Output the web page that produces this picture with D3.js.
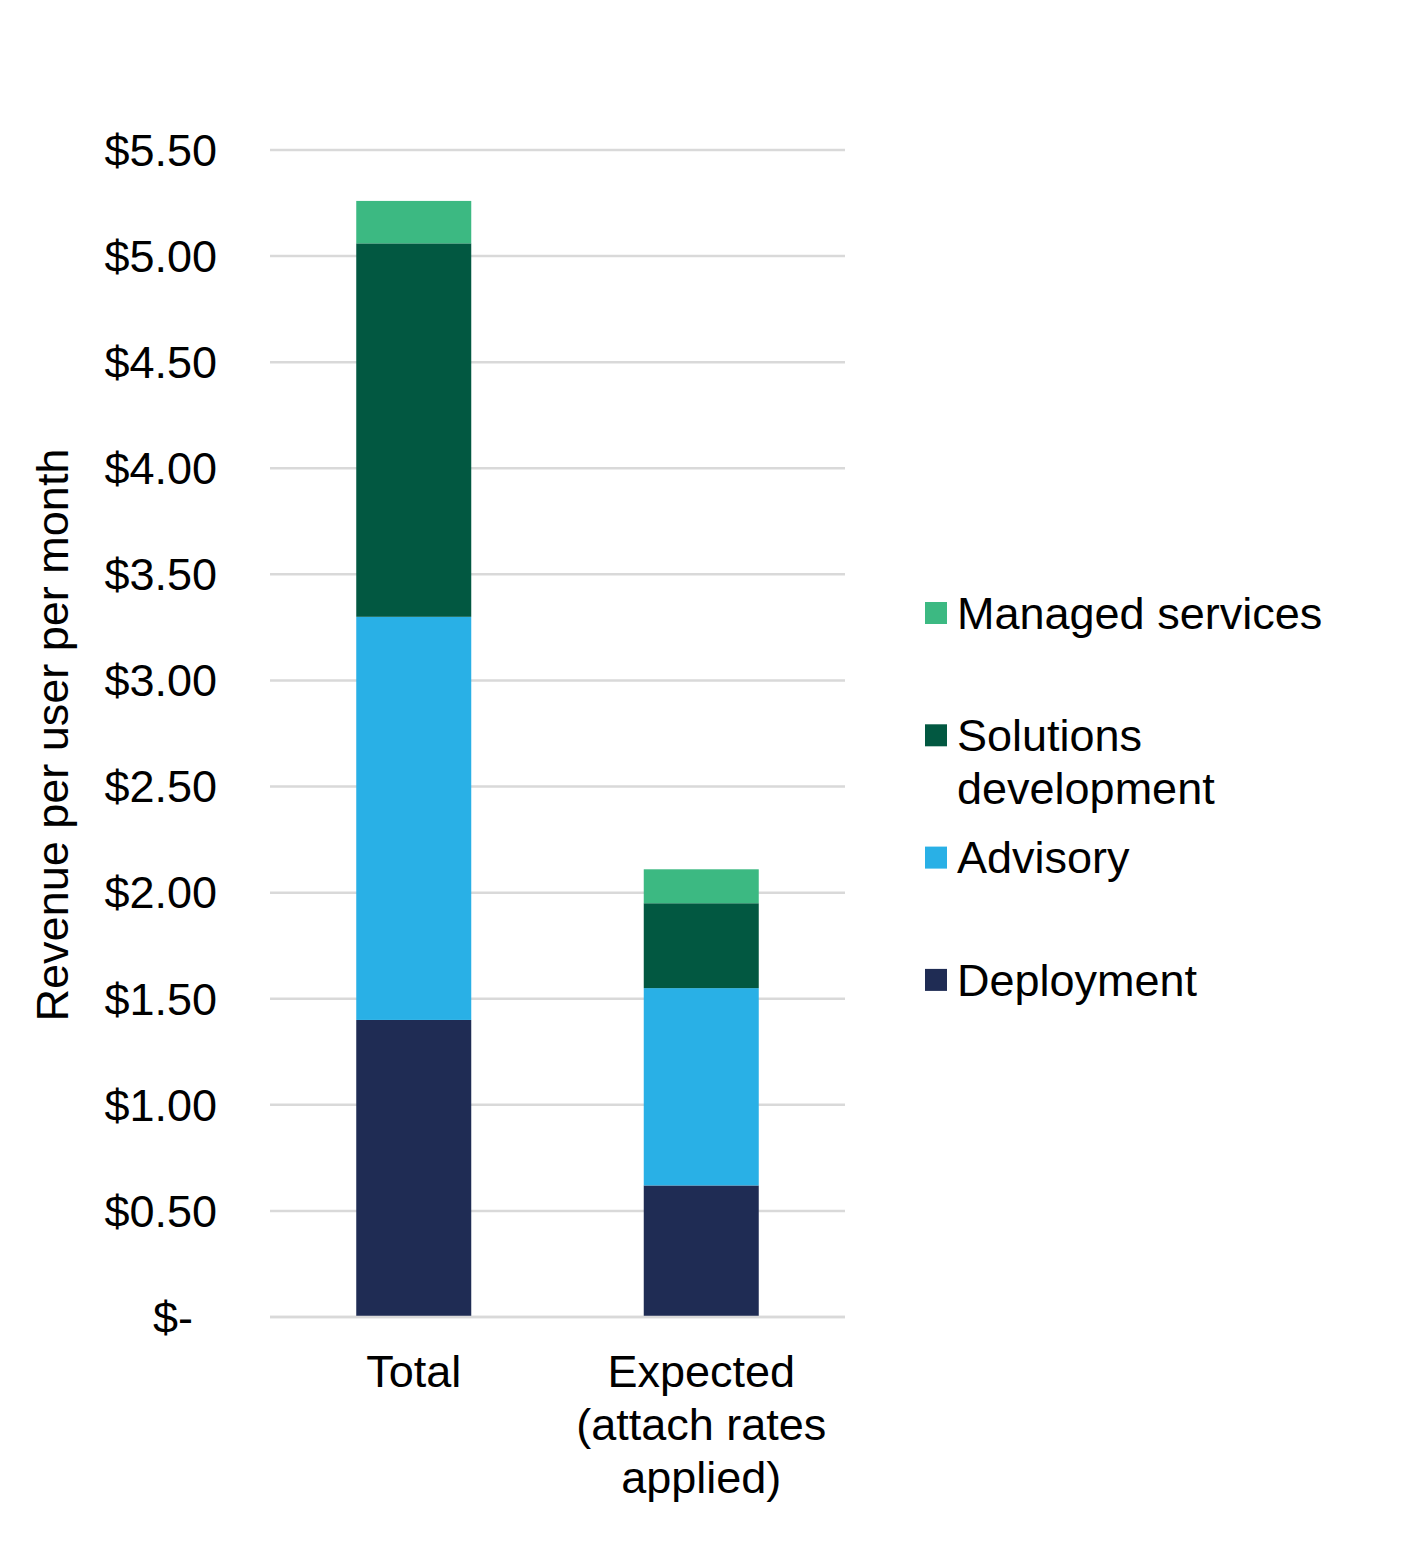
<!DOCTYPE html>
<html>
<head>
<meta charset="utf-8">
<script src="https://cdn.jsdelivr.net/npm/d3@7"></script>
<style>
  body { margin: 0; background: #fff; }
  text { font-family: "Liberation Sans", Arial, sans-serif; fill: #000; }
</style>
</head>
<body>
<div id="chart"></div>
<script>
(function() {
    const categories = [['Total'], ['Expected', '(attach rates', 'applied)']];
    const seriesNames = ['Deployment', 'Advisory', 'Solutions development', 'Managed services'];
    const deployment = [1.40, 0.62];
    const advisory   = [1.90, 0.93];
    const solutions  = [1.76, 0.40];
    const managed    = [0.20, 0.16];
    const yTicks = [0, 0.5, 1, 1.5, 2, 2.5, 3, 3.5, 4, 4.5, 5, 5.5];
    const colors = ['#1f2c54', '#29b0e6', '#025841', '#3cb982'];

    const width = 1402,
          height = 1545,
          margin = {top: 150, right: 557, bottom: 228, left: 270};
    const innerW = width - margin.left - margin.right,
          innerH = height - margin.top - margin.bottom;

    const rows = categories.map((c, i) => ({
      key: i,
      'Deployment': deployment[i],
      'Advisory': advisory[i],
      'Solutions development': solutions[i],
      'Managed services': managed[i]
    }));

    const stack = d3.stack().keys(seriesNames);
    const layers = stack(rows);

    const x = d3.scaleBand()
      .domain(d3.range(categories.length))
      .range([0, innerW])
      .paddingInner(0.6)
      .paddingOuter(0.3);

    const y = d3.scaleLinear()
      .domain([0, 5.5])
      .range([innerH, 0]);

    const color = d3.scaleOrdinal().domain(seriesNames).range(colors);

    const svg = d3.select('#chart')
      .append('svg')
      .attr('width', width)
      .attr('height', height);

    const g = svg.append('g')
      .attr('transform', `translate(${margin.left},${margin.top})`);

    // gridlines
    g.selectAll('.grid')
      .data(yTicks)
      .enter().append('line')
        .attr('x1', 0)
        .attr('x2', innerW)
        .attr('y1', d => y(d))
        .attr('y2', d => y(d))
        .attr('stroke', '#d9d9d9')
        .attr('stroke-width', 2.5);

    // y axis labels
    const yAxis = d3.axisLeft(y)
      .tickValues(yTicks)
      .tickSize(0)
      .tickPadding(53)
      .tickFormat(d => d === 0 ? '$-' : d3.format('$.2f')(d));

    const ya = g.append('g').call(yAxis);
    ya.select('.domain').remove();
    ya.selectAll('text')
      .style('font-size', '45px')
      .attr('dy', '0.34em')
      .attr('dx', d => d === 0 ? -24 : 0);

    // bars
    g.selectAll('.layer')
      .data(layers)
      .enter().append('g')
        .attr('fill', d => color(d.key))
      .selectAll('rect')
      .data(d => d)
      .enter().append('rect')
        .attr('x', (d, i) => x(i))
        .attr('width', x.bandwidth())
        .attr('y', d => y(d[1]))
        .attr('height', d => y(d[0]) - y(d[1]));

    // baseline drawn over bars
    g.append('line')
      .attr('x1', 0).attr('x2', innerW)
      .attr('y1', y(0)).attr('y2', y(0))
      .attr('stroke', '#d9d9d9')
      .attr('stroke-width', 2.5);

    // x labels
    const xl = g.selectAll('.xlab')
      .data(categories)
      .enter().append('text')
        .attr('text-anchor', 'middle')
        .attr('transform', (d, i) => `translate(${x(i) + x.bandwidth() / 2},${innerH + 70})`)
        .style('font-size', '45px');
    xl.selectAll('tspan')
      .data(d => d)
      .enter().append('tspan')
        .attr('x', 0)
        .attr('y', (d, i) => i * 53)
        .text(d => d);

    // y axis title
    svg.append('text')
      .attr('transform', `translate(68,${735}) rotate(-90)`)
      .attr('text-anchor', 'middle')
      .style('font-size', '45px')
      .text('Revenue per user per month');

    // legend (top to bottom: reverse of stack order)
    const legendItems = [
      {key: 'Managed services', lines: ['Managed services']},
      {key: 'Solutions development', lines: ['Solutions', 'development']},
      {key: 'Advisory', lines: ['Advisory']},
      {key: 'Deployment', lines: ['Deployment']}
    ];
    const legend = svg.append('g');
    const items = legend.selectAll('.item')
      .data(legendItems)
      .enter().append('g')
        .attr('transform', (d, i) => `translate(925,${613 + i * 122.3})`);
    items.append('rect')
      .attr('x', 0).attr('y', -11)
      .attr('width', 22).attr('height', 22)
      .attr('fill', d => color(d.key));
    const lt = items.append('text')
      .style('font-size', '45px');
    lt.selectAll('tspan')
      .data(d => d.lines)
      .enter().append('tspan')
        .attr('x', 32)
        .attr('y', (d, i) => i * 53)
        .attr('dy', '0.35em')
        .text(d => d);
})();
</script>
</body>
</html>
